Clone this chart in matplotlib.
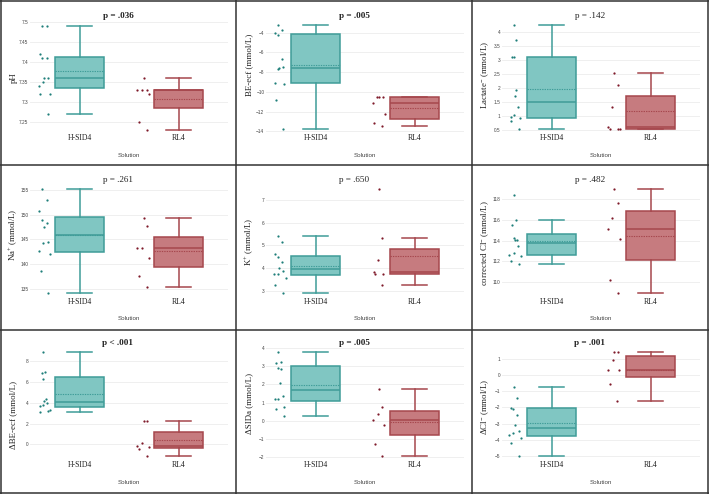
import matplotlib
matplotlib.use('Agg')
import matplotlib.pyplot as plt
from matplotlib.lines import Line2D
from matplotlib.ticker import FuncFormatter
import numpy as np

plt.rcParams['font.family'] = ['Liberation Serif', 'DejaVu Serif']
plt.rcParams['mathtext.fontset'] = 'custom'
plt.rcParams['mathtext.rm'] = 'Liberation Serif'
plt.rcParams['mathtext.it'] = 'Liberation Serif:italic'
plt.rcParams['mathtext.bf'] = 'Liberation Serif:bold'

groups = ['H-SID4', 'RL4']

# ---- data ----
ph_h = [7.49, 7.49, 7.42, 7.41, 7.41, 7.36, 7.36, 7.35, 7.34, 7.32, 7.32, 7.27]
ph_h_jit = [-0.26, 0.40, -0.55, -0.26, 0.40, 0.07, 0.64, -0.12, -0.69, -0.55, 0.83, 0.64]
ph_r = [7.36, 7.33, 7.33, 7.33, 7.32, 7.25, 7.23]
ph_r_jit = [0.12, -0.79, -0.12, 0.64, 0.93, -0.50, 0.64]

be_h = [-3.26, -3.70, -4.07, -4.20, -6.70, -7.50, -7.60, -7.70, -9.07, -9.20, -10.79, -13.76]
be_h_jit = [-0.26, 0.26, -0.74, -0.31, 0.26, 0.45, -0.07, -0.21, -0.64, 0.64, -0.50, 0.40]
be_r = [-10.49, -10.49, -10.49, -11.09, -12.28, -13.19, -13.43]
be_r_jit = [-0.26, 0.02, 0.60, -0.83, 0.88, -0.64, 0.50]

lac_h = [4.24, 3.73, 3.12, 3.12, 1.92, 1.71, 1.30, 1.01, 0.94, 0.81, 0.92, 0.51]
lac_h_jit = [-0.31, 0.07, -0.55, -0.31, 0.07, -0.12, 0.26, -0.31, -0.69, -0.69, 0.64, 0.45]
lac_r = [2.52, 2.11, 1.32, 0.61, 0.51, 0.51, 0.51]
lac_r_jit = [-0.07, 0.45, -0.36, -0.93, -0.69, 0.45, 0.69]

na_h = [155.2, 153.0, 150.7, 149.0, 148.4, 147.4, 144.3, 144.5, 142.7, 142.0, 138.5, 134.2]
na_h_jit = [-0.26, 0.40, -0.64, -0.21, 0.40, 0.07, -0.12, 0.64, -0.69, 0.83, -0.45, 0.60]
na_r = [149.4, 147.8, 143.3, 143.3, 141.3, 137.5, 135.3]
na_r_jit = [0.12, 0.64, -0.79, -0.07, 0.93, -0.55, 0.64]

k_h = [5.41, 5.16, 4.62, 4.50, 4.27, 4.01, 3.88, 3.73, 3.73, 3.55, 3.25, 2.93]
k_h_jit = [-0.26, 0.26, -0.64, -0.26, 0.26, -0.07, 0.50, -0.79, -0.26, 0.83, -0.64, 0.50]
k_r = [7.47, 5.31, 4.36, 3.85, 3.76, 3.76, 3.28]
k_r_jit = [0.02, 0.40, -0.17, -0.69, -0.50, 0.64, 0.50]

cl_h = [118.42, 116.0, 115.52, 114.29, 114.06, 114.06, 113.48, 112.81, 112.61, 112.52, 112.03, 111.77]
cl_h_jit = [-0.31, 0.07, -0.60, -0.31, -0.07, 0.12, 0.36, -0.31, -0.98, 0.69, -0.69, 0.40]
cl_r = [119.0, 117.61, 116.16, 115.16, 114.13, 110.16, 108.97]
cl_r_jit = [-0.07, 0.45, -0.36, -0.98, 0.74, -0.74, 0.45]

dbe_h = [8.83, 6.85, 6.94, 6.30, 4.32, 4.16, 4.0, 3.81, 3.71, 3.33, 3.17, 3.10]
dbe_h_jit = [-0.07, -0.31, 0.21, -0.07, 0.26, 0.07, 0.50, -0.12, -0.50, 0.93, 0.64, -0.60]
dbe_r = [2.21, 2.21, 0.16, -0.13, -0.22, -0.42, -1.15]
dbe_r_jit = [0.12, 0.64, -0.07, -0.79, 0.93, -0.50, 0.64]

dsid_h = [3.74, 3.16, 3.23, 2.91, 2.83, 2.05, 1.35, 1.17, 1.17, 0.77, 0.62, 0.28]
dsid_h_jit = [-0.26, -0.60, 0.21, -0.26, 0.21, 0.02, 0.45, -0.69, -0.26, 0.64, -0.55, 0.55]
dsid_r = [1.72, 0.73, 0.35, 0.02, -0.25, -1.27, -1.93]
dsid_r_jit = [0.02, 0.50, -0.17, -0.83, 0.79, -0.55, 0.50]

dcl_h = [-0.71, -1.41, -2.01, -2.07, -2.44, -3.08, -3.45, -3.58, -3.72, -3.89, -4.22, -5.0]
dcl_h_jit = [-0.31, 0.12, -0.74, -0.40, 0.17, -0.12, 0.40, -0.36, -0.93, 0.69, -0.69, 0.45]
dcl_r = [1.41, 1.41, 0.94, 0.32, 0.32, -0.57, -1.60]
dcl_r_jit = [-0.07, 0.45, -0.31, -0.93, 0.64, -0.64, 0.36]

ylabels = ['pH', 'BE-ecf (mmol/L)', 'Lactate$^{-}$ (mmol/L)',
           'Na$^{+}$ (mmol/L)', 'K$^{+}$ (mmol/L)', 'corrected Cl$^{-}$ (mmol/L)',
           '\u0394BE-ecf (mmol/L)', '\u0394SIDa (mmol/L)', '\u0394Cl$^{-}$ (mmol/L)']
titles = ['p = .036', 'p = .005', 'p = .142', 'p = .261', 'p = .650', 'p = .482',
          'p < .001', 'p = .005', 'p = .001']
title_bold = [True, True, False, False, False, False, True, True, True]

ylims = [(7.224, 7.5185), (-14.067, -2.209), (0.416, 4.609),
         (133.61, 157.33), (2.803, 7.927), (108.694, 120.016),
         (-1.408, 9.824), (-2.091, 4.310), (-5.186, 2.052)]
yticks = [np.arange(7.25, 7.501, 0.05), np.arange(-14, -3.9, 2), np.arange(0.5, 4.01, 0.5),
          np.arange(135, 155.1, 5), np.arange(3, 7.1, 1), np.arange(110, 118.1, 2),
          np.arange(0, 8.1, 2), np.arange(-2, 4.1, 1), np.arange(-5, 1.1, 1)]
ylabel_pos = [78, 65, 75, 70, 77, 78, 85, 73, 77]

panels = [
    (ph_h, ph_h_jit, ph_r, ph_r_jit),
    (be_h, be_h_jit, be_r, be_r_jit),
    (lac_h, lac_h_jit, lac_r, lac_r_jit),
    (na_h, na_h_jit, na_r, na_r_jit),
    (k_h, k_h_jit, k_r, k_r_jit),
    (cl_h, cl_h_jit, cl_r, cl_r_jit),
    (dbe_h, dbe_h_jit, dbe_r, dbe_r_jit),
    (dsid_h, dsid_h_jit, dsid_r, dsid_r_jit),
    (dcl_h, dcl_h_jit, dcl_r, dcl_r_jit),
]

line_cols = ['#3f9c98', '#a6474d']
fill_cols = ['#80c6c2', '#c67b7f']
pt_cols = ['#1f7f7a', '#7f1a2a']

W, H = 709, 494
fig = plt.figure(figsize=(W / 100, H / 100), dpi=100)
fig.patch.set_facecolor('white')

col_x = [0, 236, 472]
row_y = [0, 165, 330]
row_dy = [0, -1.5, -3]
title_y = [16, 15, 12.7]


def fmt(v, _):
    s = ('%.2f' % v).rstrip('0').rstrip('.')
    if s in ('-0', ''):
        s = '0'
    return s.replace('-', '\u2212')


for i, (hv, hj, rv, rj) in enumerate(panels):
    r, c = divmod(i, 3)
    x0, y0 = col_x[c], row_y[r]
    top = y0 + 15 + row_dy[r]
    bottom = y0 + 132 + row_dy[r]
    ax = fig.add_axes([(x0 + 30) / W, 1 - bottom / H, 198 / W, (bottom - top) / H])
    ax.set_xlim(-0.5, 1.5)
    ax.set_ylim(*ylims[i])
    for s in ax.spines.values():
        s.set_visible(False)
    ax.set_yticks(yticks[i])
    ax.yaxis.set_major_formatter(FuncFormatter(fmt))
    ax.grid(axis='y', color='#ececec', linewidth=0.6)
    ax.set_axisbelow(True)
    ax.tick_params(axis='y', length=0, pad=1.2, labelsize=3.4, labelcolor='#444444')
    for lab in ax.get_yticklabels():
        lab.set_fontfamily('Liberation Sans')
    ax.set_xticks([0, 1])
    ax.set_xticklabels(groups, fontsize=5.6)
    ax.tick_params(axis='x', length=0, pad=1.6, labelcolor='#222222')

    for g, (vals, jit) in enumerate([(hv, hj), (rv, rj)]):
        bp = ax.boxplot([vals], positions=[g], widths=0.49, whis=1.5,
                        showfliers=False, showmeans=True, meanline=True,
                        patch_artist=True, capwidths=[0.245],
                        boxprops=dict(facecolor=fill_cols[g], edgecolor=line_cols[g], linewidth=1.1),
                        medianprops=dict(color=line_cols[g], linewidth=1.1),
                        meanprops=dict(color=line_cols[g], linewidth=0.8, linestyle=(0, (1.2, 1.0))),
                        whiskerprops=dict(color=line_cols[g], linewidth=1.1),
                        capprops=dict(color=line_cols[g], linewidth=1.1))
        xs = g - 0.36 + np.array(jit) * 0.07
        ax.scatter(xs, vals, s=2.6, color=pt_cols[g], linewidths=0, zorder=3)

    ax.set_xticks([0, 1])
    ax.set_xticklabels(groups, fontsize=5.6)
    ax.text(0.5, -23 / (bottom - top), 'Solution', transform=ax.transAxes,
            ha='center', va='center', fontsize=4.5, color='#444444',
            fontfamily='Liberation Sans')

    fig.text((x0 + 118) / W, 1 - (y0 + title_y[r]) / H, titles[i], ha='center', va='center',
             fontsize=6.6, fontweight='bold' if title_bold[i] else 'normal', color='#222222')
    fig.text((x0 + 13.5) / W, 1 - (y0 + ylabel_pos[i]) / H, ylabels[i], rotation=90,
             ha='center', va='center', fontsize=6.4, color='#222222')

# panel frames
lc = '#333333'
for xv in [1.0, 236, 472, 708.0]:
    fig.add_artist(Line2D([xv / W, xv / W], [0, 1], color=lc, linewidth=1.1))
for yv in [1.0, 165, 330, 493.0]:
    fig.add_artist(Line2D([0, 1], [1 - yv / H, 1 - yv / H], color=lc, linewidth=1.1))

fig.savefig('out.png', dpi=100, facecolor='white')
